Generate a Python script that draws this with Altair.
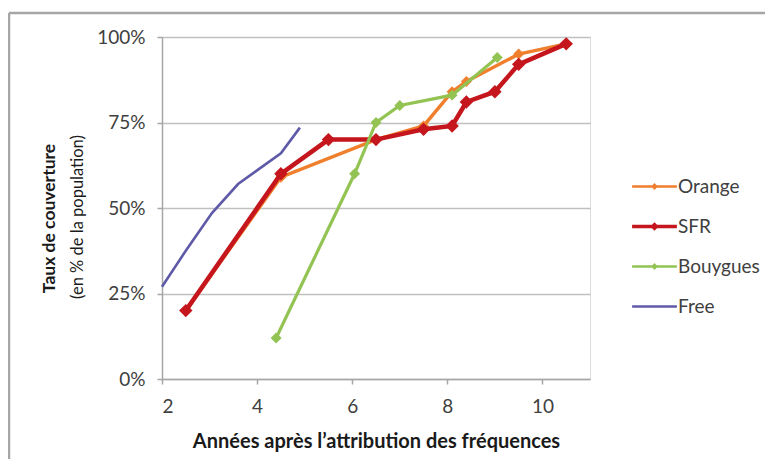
import altair as alt
import pandas as pd

# ---- data ----
series = ["Orange", "SFR", "Bouygues", "Free"]
colors = ["#f07f2d", "#c4161c", "#93c352", "#5f5aa8"]

orange_x = [2.5, 4.5, 6.5, 7.5, 8.1, 8.4, 9.5, 10.5]
orange_y = [20, 59, 70, 74, 84, 87, 95, 98]
sfr_x = [2.5, 4.5, 5.5, 6.5, 7.5, 8.1, 8.4, 9.0, 9.5, 10.5]
sfr_y = [20, 60, 70, 70, 73, 74, 81, 84, 92, 98]
bouygues_x = [4.4, 6.05, 6.5, 7.0, 8.1, 9.05]
bouygues_y = [12, 60, 75, 80, 83, 94]
free_x = [2.0, 2.5, 3.05, 3.6, 4.05, 4.5, 4.9]
free_y = [27, 37.5, 48.5, 57, 61.5, 66, 73.5]

x_ticks = [2, 4, 6, 8, 10]
y_ticks = [0, 0.25, 0.5, 0.75, 1.0]

x_title = "Années après l’attribution des fréquences"
y_title = "Taux de couverture"
y_subtitle = "(en % de la population)"

# ---- build table ----
rows = []
for name, xs, ys in [("Orange", orange_x, orange_y), ("SFR", sfr_x, sfr_y),
                     ("Bouygues", bouygues_x, bouygues_y), ("Free", free_x, free_y)]:
    for xv, yv in zip(xs, ys):
        rows.append({"op": name, "x": xv, "y": yv / 100})
df = pd.DataFrame(rows)

FONT = "Lato"
GRAY = "#404040"
FRAME = "#a6a6a6"

color_scale = alt.Scale(domain=series, range=colors)

x_enc = alt.X("x:Q", scale=alt.Scale(domain=[2, 11], nice=False),
              axis=alt.Axis(values=x_ticks, grid=False, title=x_title,
                            titleFont=FONT, titleFontSize=20, titleFontWeight="bold",
                            titleColor="#1a1a1a", titleX=214, titleY=62,
                            titleBaseline="middle", titleAlign="center",
                            labelFont=FONT, labelFontSize=19, labelColor=GRAY,
                            labelPadding=13, tickSize=5, tickColor=FRAME,
                            domainColor=FRAME, domainWidth=1.5, tickWidth=1.5))
y_enc = alt.Y("y:Q", scale=alt.Scale(domain=[0, 1], nice=False),
              axis=alt.Axis(values=y_ticks, format="%", title=y_title,
                            titleFont=FONT, titleFontSize=17.5, titleFontWeight="bold",
                            titleColor="#1a1a1a", titleX=-113, titleY=181,
                            titleAngle=270, titleBaseline="middle", titleAlign="center",
                            labelFont=FONT, labelFontSize=19, labelColor=GRAY,
                            labelPadding=12, tickSize=5, tickColor=FRAME,
                            domainColor=FRAME, domainWidth=1.5, tickWidth=1.5,
                            grid=True, gridColor="#c0c0c0", gridWidth=1.5))

base = alt.Chart(df)
one = pd.DataFrame({"k": [0]})

frame_top = alt.Chart(one).mark_rule(stroke=FRAME, strokeWidth=2.5).encode(
    x=alt.value(-153), x2=alt.value(603), y=alt.value(-24))
frame_left = alt.Chart(one).mark_rule(stroke=FRAME, strokeWidth=2.5).encode(
    x=alt.value(-153), y=alt.value(-24), y2=alt.value(422))

subtitle = alt.Chart(pd.DataFrame({"t": [y_subtitle]})).mark_text(
    angle=270, font=FONT, fontSize=16.5, color="#1a1a1a", baseline="middle", align="center"
).encode(text="t:N", x=alt.value(-84), y=alt.value(180))

widths = {"Orange": 3.5, "SFR": 4.5, "Bouygues": 3.2, "Free": 2.6}
psize = {"Orange": 120, "SFR": 180, "Bouygues": 120}

layers = [frame_top, frame_left, subtitle]
for s in series:
    sub = base.transform_filter(alt.datum.op == s)
    layers.append(sub.mark_line(strokeWidth=widths[s]).encode(
        x=x_enc, y=y_enc, color=alt.Color("op:N", scale=color_scale, legend=None)))
    if s in psize:
        layers.append(sub.mark_point(shape="diamond", filled=True, opacity=1, size=psize[s]).encode(
            x=x_enc, y=y_enc, color=alt.Color("op:N", scale=color_scale, legend=None)))

def line_diamond(t, d):
    k = d - t
    return (f"M-3.2,-{t}H-{k}L0,-{d}L{k},-{t}H3.2V{t}H{k}L0,{d}L-{k},{t}H-3.2Z")

paths = [
    line_diamond(0.19, 0.5),
    line_diamond(0.24, 0.6),
    line_diamond(0.19, 0.5),
    "M-3.2,-0.17H3.2V0.17H-3.2Z",
]
leg = dict(orient="none", legendX=483, legendY=140, title=None, symbolSize=196,
           symbolStrokeWidth=0, symbolOpacity=1, labelFont=FONT, labelFontSize=19,
           labelColor=GRAY, labelOffset=14, rowPadding=20, padding=0)
legend_layer = base.mark_point(filled=True, opacity=0).encode(
    x=x_enc, y=y_enc,
    color=alt.Color("op:N", scale=color_scale, legend=alt.Legend(**leg)),
    shape=alt.Shape("op:N", scale=alt.Scale(domain=series, range=paths), legend=alt.Legend(**leg)),
)
layers.append(legend_layer)

chart = alt.layer(*layers).resolve_legend(
    color="independent", shape="independent"
).properties(
    width=428, height=342,
    autosize=alt.AutoSizeParams(type="none"),
    padding={"left": 154, "top": 29, "right": 175, "bottom": 80},
).configure_view(stroke=None).configure(background="white")

chart.save("out.html", embed_options={"renderer": "svg", "actions": False})
